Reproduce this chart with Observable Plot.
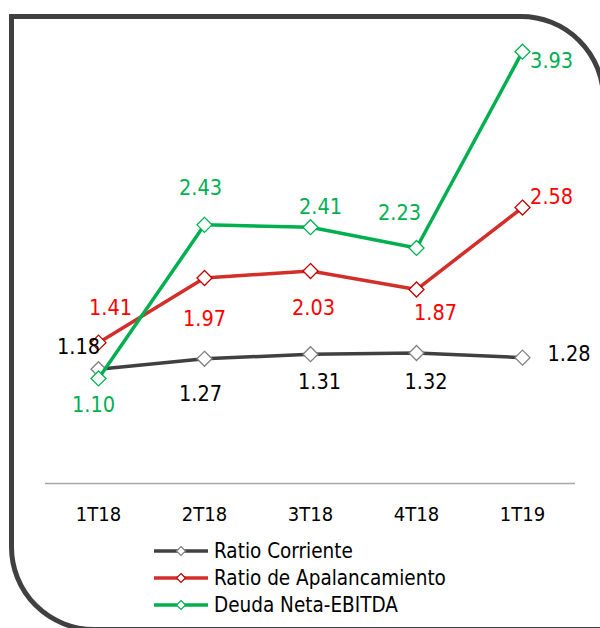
<!DOCTYPE html>
<html>
<head>
<meta charset="utf-8">
<script src="https://cdn.jsdelivr.net/npm/d3@7"></script>
<script src="https://cdn.jsdelivr.net/npm/@observablehq/plot@0.6"></script>
<style>
  html, body { margin: 0; padding: 0; background: #ffffff; }
  #page { position: relative; width: 600px; height: 628px; overflow: hidden; background: #fff;
          font-family: "DejaVu Sans Condensed", "DejaVu Sans", sans-serif; }
  #frame { position: absolute; left: 8.5px; top: 13.5px; width: 597px; height: 618px; box-sizing: border-box;
           border: 5px solid #404040; border-top-right-radius: 85px; border-bottom-left-radius: 85px; pointer-events: none; }
  #legend { position: absolute; left: 154px; top: 538px; font-size: 20.5px; color: #000; }
  .row { display: flex; align-items: center; height: 26.7px; }
  .row svg { margin-right: 4px; }
</style>
</head>
<body>
<div id="page">
  <div id="chart"></div>
  <div id="legend"></div>
  <div id="frame"></div>
</div>
<script>
// ---- data ----
const categories = ["1T18", "2T18", "3T18", "4T18", "1T19"];
const seriesNames = ["Ratio Corriente", "Ratio de Apalancamiento", "Deuda Neta-EBITDA"];
const ratioCorriente = [1.18, 1.27, 1.31, 1.32, 1.28];
const ratioApalancamiento = [1.41, 1.97, 2.03, 1.87, 2.58];
const deudaNetaEbitda = [1.10, 2.43, 2.41, 2.23, 3.93];
const yDomain = [0.19, 4.2];

// ---- styles / label placement (not data) ----
const seriesStyles = [
  {line: "#404040", marker: "#808080", label: "#000000"},
  {line: "#d32f2a", marker: "#c00000", label: "#ff0000"},
  {line: "#00b050", marker: "#00b050", label: "#00b050"}
];
const labelNudges = [
  [[-20, -22, "middle"], [-4, 35, "middle"], [9, 28, "middle"], [9.5, 29, "middle"], [25, -4, "start"]],
  [[12, -35, "middle"], [0, 41, "middle"], [3, 37, "middle"], [19, 24, "middle"], [7.6, -10, "start"]],
  [[-5, 27, "middle"], [-4, -37, "middle"], [10, -20, "middle"], [-17, -35, "middle"], [7.6, 9, "start"]]
];

const seriesValues = [ratioCorriente, ratioApalancamiento, deudaNetaEbitda];
const tables = seriesValues.map((vals, s) => categories.map((c, i) => ({cat: c, value: vals[i], series: seriesNames[s]})));

const marks = [
  Plot.ruleY([yDomain[0]], {stroke: "#a6a6a6", strokeWidth: 1.5}),
  Plot.axisX({tickSize: 0, tickPadding: 23, fontSize: 20, fill: "#000", label: null})
];
tables.forEach((data, s) => {
  const st = seriesStyles[s];
  marks.push(Plot.line(data, {x: "cat", y: "value", stroke: st.line, strokeWidth: 3.5, strokeLinejoin: "round"}));
  marks.push(Plot.dot(data, {x: "cat", y: "value", symbol: "diamond2", r: 6.75, fill: "white", stroke: st.marker, strokeWidth: 1.3}));
});
tables.forEach((data, s) => {
  const st = seriesStyles[s];
  data.forEach((d, i) => {
    const [dx, dy, anchor] = labelNudges[s][i];
    marks.push(Plot.text([d], {x: "cat", y: "value", text: d => d.value.toFixed(2), dx, dy,
      textAnchor: anchor, fill: st.label, fontSize: 21.5}));
  });
});

const chart = Plot.plot({
  width: 600,
  height: 535,
  marginLeft: 45,
  marginRight: 25,
  marginTop: 20,
  marginBottom: 52,
  x: {type: "point", domain: categories, padding: 0.5, axis: null, label: null},
  y: {domain: yDomain, axis: null},
  style: {background: "transparent", fontFamily: "'DejaVu Sans Condensed', 'DejaVu Sans', sans-serif", overflow: "visible"},
  marks
});
document.getElementById("chart").appendChild(chart);

// ---- legend ----
const legend = document.getElementById("legend");
seriesNames.forEach((name, s) => {
  const st = seriesStyles[s];
  const row = document.createElement("div");
  row.className = "row";
  row.innerHTML = `<svg width="56" height="12" viewBox="0 0 56 12">
      <line x1="0" y1="6" x2="54" y2="6" stroke="${st.line}" stroke-width="3.3"/>
      <path d="M27,1.5 L31.5,6 L27,10.5 L22.5,6 Z" fill="white" stroke="${st.marker}" stroke-width="1.2"/>
    </svg><span>${name}</span>`;
  legend.appendChild(row);
});
</script>
</body>
</html>
